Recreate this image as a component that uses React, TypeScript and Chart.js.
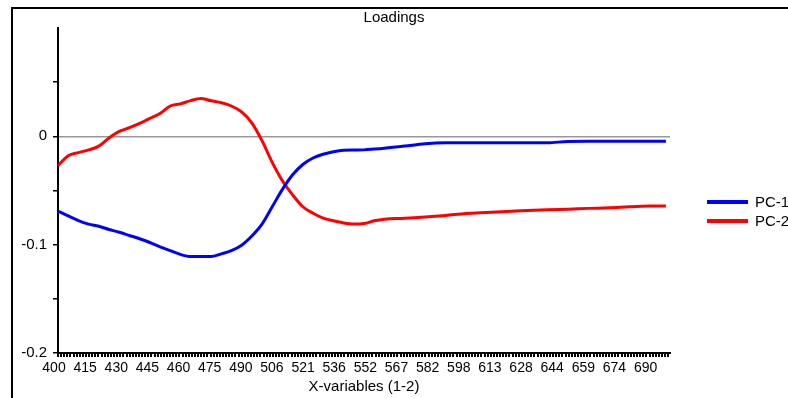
import React, { useEffect, useRef } from "react";
import { Chart, registerables } from "chart.js";

Chart.register(...registerables);

const WAVELENGTHS = [400, 405, 410, 415, 420, 425, 430, 435, 440, 445, 450, 455, 460, 465, 470, 475, 480, 485, 490, 495, 500, 505, 510, 515, 520, 525, 530, 535, 540, 545, 550, 555, 560, 570, 580, 590, 600, 610, 620, 630, 640, 650, 660, 670, 680, 690, 698];

const PC1 = [-0.069, -0.0735, -0.0778, -0.081, -0.083, -0.086, -0.0885, -0.0915, -0.0945, -0.098, -0.102, -0.1055, -0.109, -0.111, -0.111, -0.111, -0.1085, -0.1055, -0.1005, -0.092, -0.081, -0.065, -0.049, -0.0355, -0.026, -0.02, -0.0165, -0.0142, -0.0128, -0.0126, -0.0125, -0.0118, -0.011, -0.009, -0.0068, -0.006, -0.006, -0.006, -0.006, -0.006, -0.006, -0.0047, -0.0046, -0.0046, -0.0046, -0.0046, -0.0046];

const PC2 = [-0.027, -0.018, -0.015, -0.0125, -0.009, -0.0015, 0.0045, 0.008, 0.012, 0.0165, 0.021, 0.028, 0.03, 0.033, 0.035, 0.0328, 0.031, 0.028, 0.0225, 0.0125, -0.004, -0.024, -0.041, -0.054, -0.065, -0.071, -0.0755, -0.078, -0.08, -0.081, -0.0805, -0.078, -0.0765, -0.0757, -0.0745, -0.073, -0.0712, -0.0702, -0.0693, -0.0685, -0.0677, -0.0672, -0.0665, -0.066, -0.065, -0.0643, -0.0642];

const X_LABELS = ["400", "415", "430", "445", "460", "475", "490", "506", "521", "536", "552", "567", "582", "598", "613", "628", "644", "659", "674", "690"];
const Y_TICK_VALUES = [-0.2, -0.15, -0.1, -0.05, 0, 0.05];
const Y_TICK_LABELS = ["-0.2", "", "-0.1", "", "0", ""];

const SERIES_NAMES = ["PC-1", "PC-2"];
const SERIES_COLORS = ["#0000ff", "#ff0000"];

const FONT = "'Liberation Sans', Arial, sans-serif";

export default function App() {
  const ref = useRef<HTMLCanvasElement | null>(null);

  useEffect(() => {
    const canvas = ref.current;
    if (!canvas) return;

    const X_MIN = 400;
    const X_LAST_LABEL = 690;
    const labelStep = (X_LAST_LABEL - X_MIN) / (X_LABELS.length - 1);
    const minorStep = labelStep / 10;

    const decor = {
      id: "decor",
      afterDraw(chart: any) {
        const c = chart.ctx;
        const area = chart.chartArea;
        c.save();
        // frame
        c.strokeStyle = "#000";
        c.lineWidth = 2;
        c.beginPath();
        c.moveTo(12, 400);
        c.lineTo(12, 8);
        c.lineTo(800, 8);
        c.stroke();
        // title
        c.fillStyle = "#000";
        c.font = `15px ${FONT}`;
        c.textAlign = "center";
        c.textBaseline = "middle";
        c.fillText("Loadings", 394, 18);
        // x title
        c.fillText("X-variables (1-2)", (area.left + area.right) / 2, 387);
        // legend
        SERIES_NAMES.forEach((name, i) => {
          const y = 202 + i * 19;
          c.strokeStyle = SERIES_COLORS[i];
          c.lineWidth = 4;
          c.beginPath();
          c.moveTo(707, y);
          c.lineTo(748, y);
          c.stroke();
          c.textAlign = "left";
          c.fillText(name, 755, y + 1);
        });
        c.restore();
      },
    };

    const chart = new Chart(canvas, {
      type: "line",
      data: {
        datasets: [PC1, PC2].map((vals, i) => ({
          label: SERIES_NAMES[i],
          data: WAVELENGTHS.map((w, j) => ({ x: w, y: vals[j] })),
          borderColor: SERIES_COLORS[i],
          backgroundColor: SERIES_COLORS[i],
          borderWidth: 3,
          pointRadius: 0,
          cubicInterpolationMode: "monotone" as const,
          fill: false,
        })),
      },
      options: {
        animation: false,
        responsive: false,
        layout: { padding: { left: 0, top: 28, right: 118, bottom: 0 } },
        plugins: {
          legend: { display: false },
          title: { display: false },
          tooltip: { enabled: false },
        },
        scales: {
          x: {
            type: "linear",
            min: 400,
            max: 700,
            afterBuildTicks(scale: any) {
              const ticks = [];
              for (let i = 0; X_MIN + i * minorStep <= 700; i++) {
                ticks.push({ value: X_MIN + i * minorStep });
              }
              scale.ticks = ticks;
            },
            afterFit(scale: any) {
              scale.height = 45;
            },
            ticks: {
              autoSkip: false,
              maxRotation: 0,
              minRotation: 0,
              padding: 3,
              labelOffset: -4,
              color: "#000",
              font: { family: FONT, size: 14 },
              callback: (_v: any, index: number) =>
                index % 10 === 0 ? X_LABELS[index / 10] ?? "" : "",
            },
            grid: {
              drawOnChartArea: false,
              drawTicks: true,
              tickLength: 4,
              tickColor: "#000",
              lineWidth: 2,
            },
            border: { display: true, color: "#000", width: 2 },
          },
          y: {
            type: "linear",
            min: -0.2,
            max: 0.1,
            afterBuildTicks(scale: any) {
              scale.ticks = Y_TICK_VALUES.map((v) => ({ value: v }));
            },
            afterFit(scale: any) {
              scale.width = 58;
            },
            ticks: {
              autoSkip: false,
              padding: 6,
              color: "#000",
              font: { family: FONT, size: 15 },
              callback: (_v: any, index: number) => Y_TICK_LABELS[index] ?? "",
            },
            grid: {
              drawOnChartArea: true,
              drawTicks: true,
              tickLength: 5,
              tickColor: "#000",
              lineWidth: 1.5,
              color: (ctx: any) =>
                ctx.tick && Math.abs(ctx.tick.value) < 1e-9 ? "#999999" : "rgba(0,0,0,0)",
            },
            border: { display: true, color: "#000", width: 2 },
          },
        },
      },
      plugins: [decor],
    } as any);

    return () => chart.destroy();
  }, []);

  return (
    <div style={{ position: "absolute", left: 0, top: 0, width: 788, height: 398, background: "#fff" }}>
      <canvas ref={ref} width={788} height={398} />
    </div>
  );
}
